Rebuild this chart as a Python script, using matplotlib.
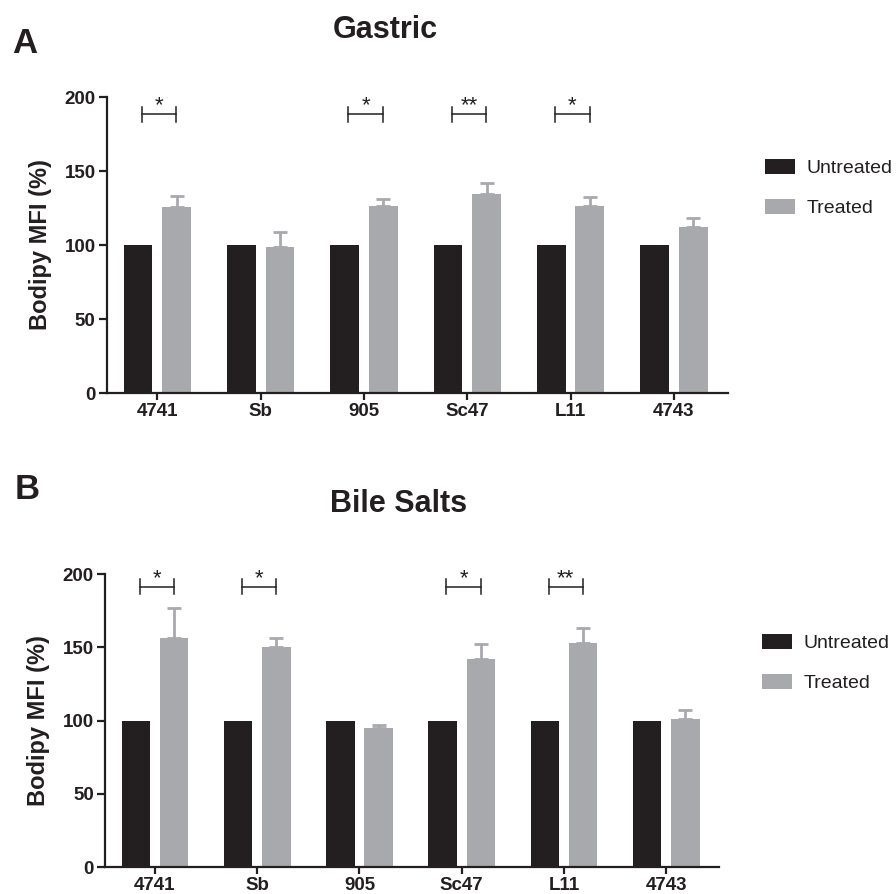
import numpy as np
import matplotlib
matplotlib.use("Agg")
import matplotlib.pyplot as plt
from matplotlib.patches import Patch

strains = ["4741", "Sb", "905", "Sc47", "L11", "4743"]

# Gastric panel
gastric_untreated = [100, 100, 100, 100, 100, 100]
gastric_treated = [125.9, 98.9, 126.6, 134.7, 126.4, 112.4]
gastric_sem = [7.1, 9.7, 4.7, 7.3, 5.8, 6.1]
gastric_sig = ["*", "", "*", "**", "*", ""]

# Bile salts panel
bile_untreated = [100, 100, 100, 100, 100, 100]
bile_treated = [156.6, 150.4, 95.2, 142.2, 153.1, 100.9]
bile_sem = [20.0, 5.7, 2.0, 10.0, 9.9, 6.4]
bile_sig = ["*", "*", "", "*", "**", ""]

BLACK, GREY, INK = "#231f20", "#a7a9ac", "#231f20"
plt.rcParams.update({"font.family": ["Liberation Sans", "DejaVu Sans"]})

fig = plt.figure(figsize=(8.96, 8.94), dpi=100)
axA = fig.add_axes([0.119, 0.5604, 0.693, 0.331])
axB = fig.add_axes([0.117, 0.0299, 0.686, 0.328])

W, OFF = 0.278, 0.187


def panel(ax, untreated, treated, sem, sig, sig_y):
    x = np.arange(len(strains))
    ax.bar(x - OFF, untreated, W, color=BLACK, label="Untreated")
    ax.bar(x + OFF, treated, W, color=GREY, label="Treated")
    ax.errorbar(x + OFF, treated, yerr=[np.zeros(len(sem)), sem], fmt="none",
                ecolor=GREY, elinewidth=2.0, capsize=5, capthick=2.0)
    for xi, s in zip(x, sig):
        if not s:
            continue
        x0, x1 = xi - 0.15, xi + 0.185
        ax.plot([x0, x1], [sig_y, sig_y], color=INK, lw=1.1, clip_on=False)
        ax.plot([x0, x0], [sig_y - 5, sig_y + 5], color=INK, lw=1.1, clip_on=False)
        ax.plot([x1, x1], [sig_y - 5, sig_y + 5], color=INK, lw=1.1, clip_on=False)
        ax.text((x0 + x1) / 2, sig_y - 1.5, s, ha="center", va="bottom",
                fontsize=16, color=INK)
    ax.set_xlim(-0.49, 5.52)
    ax.set_ylim(0, 200)
    ax.set_yticks([0, 50, 100, 150, 200])
    ax.set_xticks(x)
    ax.set_xticklabels(strains)
    for s in ("top", "right"):
        ax.spines[s].set_visible(False)
    for s in ("left", "bottom"):
        ax.spines[s].set_linewidth(1.6)
        ax.spines[s].set_color(INK)
    ax.tick_params(axis="both", width=1.6, color=INK, labelsize=13.5, pad=2)
    ax.tick_params(axis="y", length=6)
    ax.tick_params(axis="x", length=5)
    for lab in ax.get_xticklabels() + ax.get_yticklabels():
        lab.set_fontweight("bold")
        lab.set_color(INK)
    ax.set_ylabel("Bodipy MFI (%)", fontsize=17, fontweight="bold", color=INK, labelpad=9)


panel(axA, gastric_untreated, gastric_treated, gastric_sem, gastric_sig, 188.5)
panel(axB, bile_untreated, bile_treated, bile_sem, bile_sig, 191.3)

fig.text(385.8 / 896, 1 - 38.3 / 894, "Gastric", ha="center", va="baseline",
         fontsize=22, fontweight="bold", color=INK)
fig.text(398.3 / 896, 1 - 511.7 / 894, "Bile Salts", ha="center", va="baseline",
         fontsize=22, fontweight="bold", color=INK)
fig.text(11.7 / 896, 1 - 53.3 / 894, "A", ha="left", va="baseline",
         fontsize=25, fontweight="bold", color=INK)
fig.text(15 / 896, 1 - 499.3 / 894, "B", ha="left", va="baseline",
         fontsize=25, fontweight="bold", color=INK)

handles = [Patch(facecolor=BLACK, label="Untreated"), Patch(facecolor=GREY, label="Treated")]
for anchor in [(765 / 896, 1 - 158.5 / 894), (762 / 896, 1 - 633.5 / 894)]:
    fig.legend(handles=handles, loc="upper left", bbox_to_anchor=anchor,
               frameon=False, fontsize=14, borderpad=0, borderaxespad=0,
               handlelength=1.55, handleheight=0.88, handletextpad=0.6,
               labelspacing=1.1, labelcolor=INK)

fig.savefig("out.png", dpi=100, facecolor="white")
